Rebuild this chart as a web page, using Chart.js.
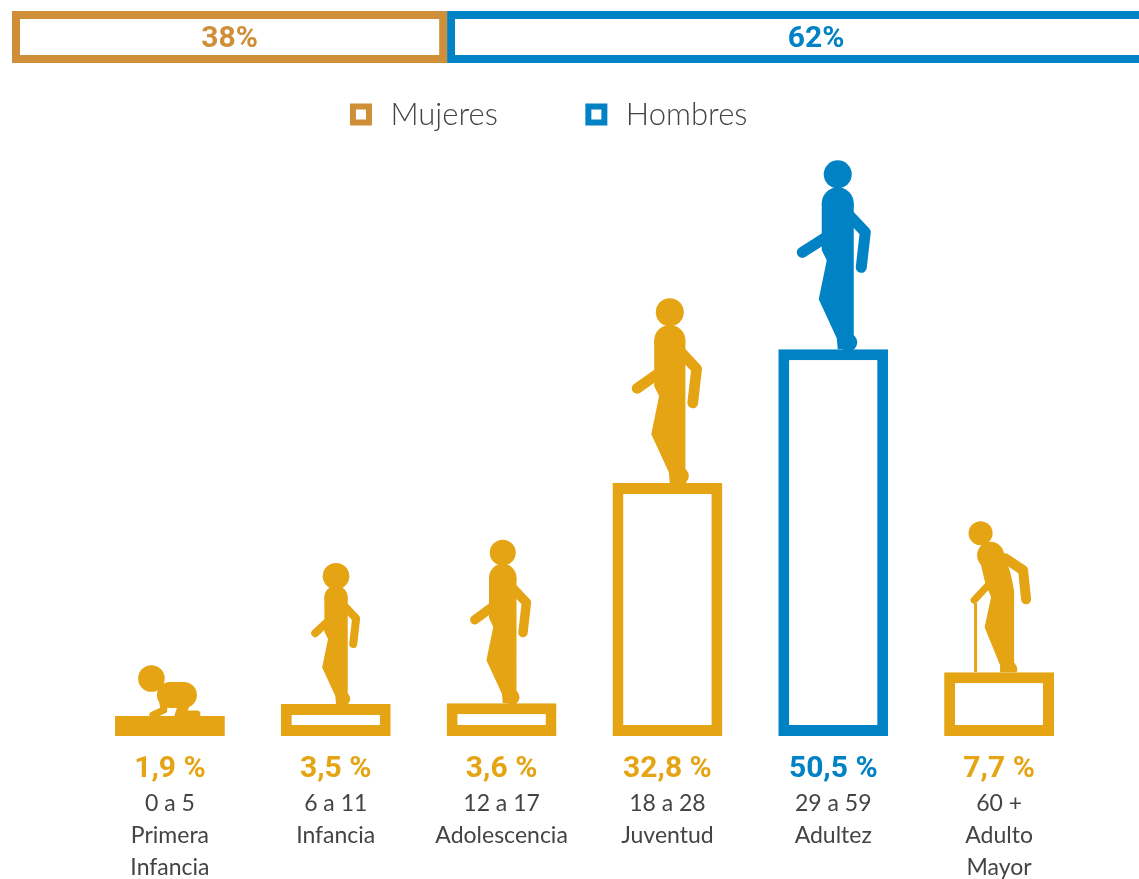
<!DOCTYPE html>
<html>
<head>
<meta charset="utf-8">
<title>Mujeres y hombres por grupo de edad</title>
<script src="https://cdn.jsdelivr.net/npm/chart.js@4"></script>
<style>
  html, body { margin: 0; padding: 0; background: #fff; overflow: hidden; width: 1139px; height: 879px; }
  #main { position: absolute; left: 0; top: 0; }
  #band { position: absolute; left: 12px; top: 11px; }
</style>
</head>
<body>
<canvas id="main" width="1139" height="879"></canvas>
<canvas id="band" width="1145" height="52"></canvas>
<script>
"use strict";
//------------------- data ---------------------------------
const groups = [
  ["0 a 5", "Primera", "Infancia"],
  ["6 a 11", "Infancia"],
  ["12 a 17", "Adolescencia"],
  ["18 a 28", "Juventud"],
  ["29 a 59", "Adultez"],
  ["60 +", "Adulto", "Mayor"]
];
const shares = [1.9, 3.5, 3.6, 32.8, 50.5, 7.7];
const shareLabels = ["1,9 %", "3,5 %", "3,6 %", "32,8 %", "50,5 %", "7,7 %"];
const genderNames = ["Mujeres", "Hombres"];
const genderShares = [38, 62];
const genderLabels = ["38%", "62%"];

//------------------- colors / fonts ------------------------
const YELLOW = "#e5a414";
const BLUE = "#0082c4";
const BROWN = "#cf8f38";
const GREY = "#444444";
const barColors = [YELLOW, YELLOW, YELLOW, YELLOW, BLUE, YELLOW];
const BOLD_FONT = "Roboto";
const TEXT_FONT = "Lato, Roboto";
const Y_MIN = -0.75; // bars start a bit under zero in the original

//------------------- pictograms -----------------------------
function poly(ctx, pts) {
  ctx.beginPath();
  pts.forEach((p, i) => i ? ctx.lineTo(p[0], p[1]) : ctx.moveTo(p[0], p[1]));
  ctx.closePath();
  ctx.fill();
}
function line(ctx, pts, w) {
  ctx.lineWidth = w;
  ctx.lineCap = "round";
  ctx.lineJoin = "round";
  ctx.beginPath();
  pts.forEach((p, i) => i ? ctx.lineTo(p[0], p[1]) : ctx.moveTo(p[0], p[1]));
  ctx.stroke();
}
function circle(ctx, x, y, r) {
  ctx.beginPath();
  ctx.arc(x, y, r, 0, Math.PI * 2);
  ctx.fill();
}

// origin is the middle of the bar top
function drawWalker(ctx, s, headR, armEnd) {
  ctx.save();
  ctx.scale(s, s);
  circle(ctx, 4.5, -175, headR / s);
  circle(ctx, 4.5, -146, 16);
  poly(ctx, [[-11.5, -146], [20.5, -146], [20.5, -14], [23, -8], [20, 0], [4.5, 0], [3.5, -11],
    [-14.5, -50], [-6.5, -89], [-11.5, -99]]);
  circle(ctx, 15, -7, 9);
  line(ctx, [[16, -134], [32, -117], [28, -82]], 11);
  line(ctx, [[-9, -111], [armEnd, -97]], 11);
  ctx.restore();
}

function drawBaby(ctx) {
  circle(ctx, -18.5, -37.5, 13.3);
  line(ctx, [[0, -21], [14, -21]], 26);
  line(ctx, [[-7, -13], [-6, -6], [-17, -1]], 7);
  poly(ctx, [[8, -11], [20, -11], [15, 1], [4, 1]]);
  line(ctx, [[15, -2], [27, -2]], 7);
}

function drawElder(ctx) {
  circle(ctx, -18.5, -139, 12);
  circle(ctx, -8.5, -117, 13.5);
  poly(ctx, [[-21, -119], [-14, -90], [-8, -75], [-14.5, -45], [1, -7], [1, 0], [18, 0], [18, -5], [15, -10],
    [15, -82], [11.5, -99], [4, -121]]);
  line(ctx, [[6, -114], [24, -102], [27, -73]], 10);
  line(ctx, [[-11, -87], [-25, -72]], 7);
  ctx.lineCap = "butt";
  ctx.lineWidth = 3;
  ctx.beginPath();
  ctx.moveTo(-23.5, -69);
  ctx.lineTo(-23.5, 0);
  ctx.stroke();
}

// [scale, head radius, x shift, back arm end] for the walking figures
const walkers = {
  1: [0.73, 13.3, -3, -24],
  2: [0.86, 13, -2.7, -28],
  3: [0.975, 14, -2, -29],
  4: [1, 14, 0, -31]
};

const figures = {
  id: "figures",
  afterDatasetsDraw(chart) {
    const ctx = chart.ctx;
    const bars = chart.getDatasetMeta(0).data;
    const bottom = chart.chartArea.bottom;
    bars.forEach((bar, i) => {
      ctx.save();
      ctx.fillStyle = barColors[i];
      ctx.strokeStyle = barColors[i];
      ctx.translate(bar.x, bar.y);
      if (i === 0) drawBaby(ctx);
      else if (i === 5) drawElder(ctx);
      else {
        ctx.translate(walkers[i][2], 0);
        drawWalker(ctx, walkers[i][0], walkers[i][1], walkers[i][3]);
      }
      ctx.restore();

      ctx.save();
      ctx.fillStyle = barColors[i];
      ctx.font = "bold 30px " + BOLD_FONT;
      ctx.textAlign = "center";
      ctx.textBaseline = "middle";
      ctx.fillText(shareLabels[i], bar.x, bottom + 33);
      ctx.restore();
    });
  }
};

//------------------- age chart ------------------------------
new Chart(document.getElementById("main"), {
  type: "bar",
  data: {
    labels: groups,
    datasets: [{
      data: shares,
      base: Y_MIN,
      backgroundColor: "#ffffff",
      borderColor: barColors,
      borderWidth: 11,
      borderSkipped: false,
      inflateAmount: 0,
      barPercentage: 110 / 166,
      categoryPercentage: 1
    }]
  },
  options: {
    responsive: false,
    animation: false,
    layout: { padding: { top: 14.5, left: 12.5, right: 57, bottom: 0 } },
    plugins: {
      tooltip: { enabled: false },
      legend: {
        position: "top",
        labels: {
          usePointStyle: true,
          boxWidth: 28,
          boxHeight: 16,
          padding: 84.5,
          color: GREY,
          font: { family: TEXT_FONT, size: 31, weight: "300" },
          generateLabels() {
            return genderNames.map((name, i) => ({
              text: name,
              fontColor: GREY,
              fillStyle: "#ffffff",
              strokeStyle: i ? BLUE : BROWN,
              lineWidth: 6,
              pointStyle: "rect",
              hidden: false,
              datasetIndex: 0
            }));
          }
        }
      }
    },
    scales: {
      x: {
        grid: { display: false, drawTicks: false },
        border: { display: false },
        afterFit(scale) { scale.height = 143; },
        ticks: {
          padding: 52,
          autoSkip: false,
          maxRotation: 0,
          color: GREY,
          font: { family: TEXT_FONT, size: 23, lineHeight: 32 / 23 }
        }
      },
      y: {
        min: Y_MIN,
        max: 78.25,
        grid: { display: false, drawTicks: false },
        border: { display: false },
        ticks: { display: false },
        afterFit(scale) { scale.width = 74.5; }
      }
    }
  },
  plugins: [figures]
});

//------------------- women / men band ------------------------
const bandLabels = {
  id: "bandLabels",
  afterDatasetsDraw(chart) {
    const ctx = chart.ctx;
    ctx.save();
    ctx.font = "bold 30px " + BOLD_FONT;
    ctx.textAlign = "center";
    ctx.textBaseline = "middle";
    chart.data.datasets.forEach((ds, i) => {
      const bar = chart.getDatasetMeta(i).data[0];
      // the 62% sits right of the middle of its box in the original
      const x = (bar.base + bar.x) / 2 + (i ? 14 : 0);
      ctx.fillStyle = ds.borderColor;
      ctx.fillText(genderLabels[i], x, bar.y + 2);
    });
    ctx.restore();
  }
};

new Chart(document.getElementById("band"), {
  type: "bar",
  data: {
    labels: ["Total"],
    datasets: genderNames.map((name, i) => ({
      label: name,
      data: [genderShares[i]],
      backgroundColor: "#ffffff",
      borderColor: i ? BLUE : BROWN,
      borderWidth: 8,
      borderSkipped: false,
      inflateAmount: 0,
      barPercentage: 1,
      categoryPercentage: 1
    }))
  },
  options: {
    indexAxis: "y",
    responsive: false,
    animation: false,
    layout: { padding: 0 },
    plugins: { legend: { display: false }, tooltip: { enabled: false } },
    scales: {
      x: { display: false, stacked: true, min: 0, max: 100 },
      y: { display: false, stacked: true }
    }
  },
  plugins: [bandLabels]
});
</script>
</body>
</html>
